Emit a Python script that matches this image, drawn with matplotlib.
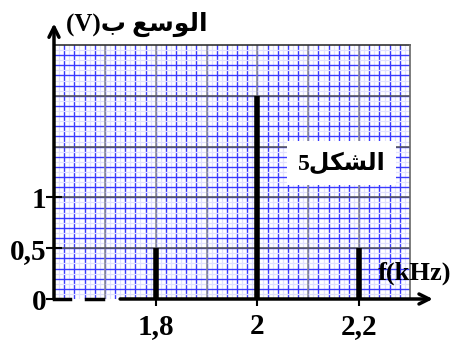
import numpy as np
import matplotlib
matplotlib.use("Agg")
import matplotlib.pyplot as plt

# spectre d'amplitude
freqs = [1.8, 2.0, 2.2]          # kHz
amps = [0.5, 2.0, 0.5]           # V
xtick_vals = [1.8, 2.0, 2.2]
xtick_labels = ["1,8", "2", "2,2"]
ytick_vals = [0, 0.5, 1]
ytick_labels = ["0", "0,5", "1"]

# texte arabe en formes de presentation, ordre visuel
ylabel_txt = "(V)\uFE8F \uFECA\uFEB3\uFEEE\uFEDF\uFE8D"
fig_txt = "5\uFEDE\uFEDC\uFEB8\uFEDF\uFE8D"
xlabel_txt = "f(kHz)"

fam = ["Liberation Serif", "DejaVu Sans"]

fig = plt.figure(figsize=(4.64, 3.42), dpi=100)
ax = fig.add_axes([54 / 464, 43 / 342, 356 / 464, 254 / 342])
ax.set_xlim(1.6, 2.3)
ax.set_ylim(0, 2.5)

# papier millimetre
for x in np.arange(1.61, 2.3, 0.02):
    ax.axvline(x, color="#e0e0ff", lw=0.9, zorder=0)
for x in np.arange(1.62, 2.3, 0.02):
    ax.axvline(x, color="#3a3aff", lw=1.0, zorder=0)
for x in np.arange(1.7, 2.3, 0.1):
    ax.axvline(x, color="#909090", lw=1.1, zorder=0.5)
for y in np.arange(0.05, 2.5, 0.1):
    ax.axhline(y, color="#e0e0ff", lw=0.9, zorder=0)
for y in np.arange(0.1, 2.5, 0.1):
    ax.axhline(y, color="#3a3aff", lw=1.0, zorder=0)
for y in np.arange(0.5, 2.5, 0.5):
    ax.axhline(y, color="#555555", lw=1.1, zorder=0.5)

for s in ax.spines.values():
    s.set_visible(False)
ax.plot([1.6, 2.3], [2.5, 2.5], color="#333333", lw=1.2, clip_on=False)
ax.plot([2.3, 2.3], [0, 2.5], color="#666666", lw=1.2, clip_on=False)

# raies
ax.vlines(freqs, 0, amps, color="black", lw=4, zorder=3)

# axes avec fleches
ax.annotate("", xy=(1.6, 2.74), xytext=(1.6, -0.02),
            arrowprops=dict(arrowstyle="->", lw=2.5, color="black",
                            mutation_scale=18), annotation_clip=False)
ax.plot([1.6, 1.632], [0, 0], color="black", lw=2.5, clip_on=False, zorder=4)
ax.plot([1.662, 1.696], [0, 0], color="black", lw=2.5, clip_on=False, zorder=4)
ax.annotate("", xy=(2.345, 0), xytext=(1.73, 0),
            arrowprops=dict(arrowstyle="->", lw=2.5, color="black",
                            mutation_scale=18, shrinkA=0, shrinkB=0),
            annotation_clip=False, zorder=4)

ax.set_xticks(xtick_vals)
ax.set_xticklabels(xtick_labels)
ax.set_yticks(ytick_vals)
ax.set_yticklabels(ytick_labels)
ax.tick_params(axis="x", direction="out", length=5, width=1.5, pad=5)
ax.tick_params(axis="y", direction="inout", length=11, width=1.5, pad=0)
for lab in ax.get_xticklabels() + ax.get_yticklabels():
    lab.set_fontfamily(fam)
    lab.set_fontweight("bold")
    lab.set_fontsize(21)

ax.text(0.035, 1.08, ylabel_txt, transform=ax.transAxes, family=fam,
        fontweight="bold", fontsize=18, ha="left", va="center", clip_on=False)
ax.text(0.91, 0.1, xlabel_txt, transform=ax.transAxes, family=fam,
        fontweight="bold", fontsize=19, ha="left", va="center", clip_on=False,
        zorder=6)
ax.text(2.166, 1.34, fig_txt, family=fam, fontweight="bold", fontsize=17,
        ha="center", va="center", zorder=5,
        bbox=dict(boxstyle="square,pad=0.45", fc="white", ec="none"))

fig.savefig("out.png", dpi=100)
